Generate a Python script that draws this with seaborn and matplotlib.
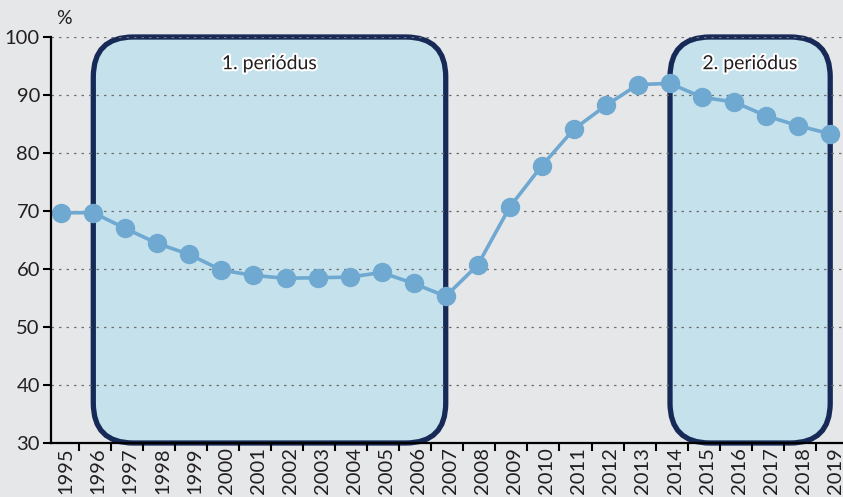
"""Line chart with two highlighted periods (rounded boxes)."""

import matplotlib

matplotlib.use("Agg")
import matplotlib.pyplot as plt
import matplotlib.patheffects as pe
import matplotlib.transforms as mtransforms
import numpy as np
import pandas as pd
import seaborn as sns
from matplotlib.patches import FancyBboxPatch

years = [str(y) for y in range(1995, 2020)]
values = [
    69.7, 69.7, 67.0, 64.4, 62.5, 59.8, 58.9, 58.4, 58.5, 58.6, 59.4, 57.5,
    55.3, 60.7, 70.7, 77.8, 84.1, 88.2, 91.8, 92.0, 89.6, 88.8, 86.4, 84.7,
    83.3,
]
periods = [("1. periódus", "1996", "2007"), ("2. periódus", "2014", "2019")]
y_ticks = [30, 40, 50, 60, 70, 80, 90, 100]

BG = "#e6e7e8"
LINE = "#6fa8d0"
BOX_FILL = "#c5e1ec"
BOX_EDGE = "#172a57"
TXT = "#231f20"

sns.set_style("white")
plt.rcParams["font.family"] = ["Lato", "DejaVu Sans"]

df = pd.DataFrame({"year": years, "value": values})

fig = plt.figure(figsize=(8.43, 4.97), dpi=100, facecolor=BG)
# axes runs a bit past the right edge, as in the original crop
ax_w = 801
ax = fig.add_axes([51 / 843, 1 - 443 / 497, ax_w / 843, (443 - 37) / 497])
ax.set_facecolor(BG)

sns.pointplot(
    data=df, x="year", y="value", color=LINE, markers="o",
    markersize=12, linewidth=2.6, ax=ax, zorder=3,
)

ax.set_xlim(-0.32, len(years) - 0.32)
ax.set_ylim(30, 100)

# rounded period boxes
xscale = ax_w / 25.0
yscale = 406 / 70.0
radius = 40 / xscale
for label, start, end in periods:
    x0 = years.index(start)
    x1 = years.index(end)
    box = FancyBboxPatch(
        (x0, 30), x1 - x0, 70,
        boxstyle=f"round,pad=0,rounding_size={radius}",
        mutation_aspect=xscale / yscale,
        facecolor=BOX_FILL, edgecolor=BOX_EDGE, linewidth=3.8,
        zorder=1, clip_on=False,
    )
    ax.add_patch(box)
    ax.text(
        (x0 + x1) / 2, 95.4, label, ha="center", va="center", fontsize=14,
        color=TXT, zorder=4,
        path_effects=[pe.withStroke(linewidth=3, foreground="white")],
    )

ax.set_axisbelow("line")
ax.yaxis.grid(True, linestyle=(0, (2, 4)), color="#707070", linewidth=0.9)
ax.xaxis.grid(False)

ax.set_yticks(y_ticks)
ax.tick_params(axis="y", direction="out", length=6, width=1.5,
               color="black", labelsize=14.5, left=True, pad=2)
ax.tick_params(axis="x", which="major", length=0, labelsize=14.5,
               labelrotation=90, pad=3)
ax.set_xticks(np.arange(0.55, len(years), 1), minor=True)
ax.tick_params(axis="x", which="minor", direction="out", length=6,
               width=1.5, color="black", bottom=True)
for t in ax.get_yticklabels() + ax.get_xticklabels():
    t.set_color(TXT)

# year labels sit slightly right of the points in the original
shift = mtransforms.ScaledTranslation(5 / 100, 0, fig.dpi_scale_trans)
for t in ax.get_xticklabels():
    t.set_transform(t.get_transform() + shift)

for s in ["top", "right"]:
    ax.spines[s].set_visible(False)
for s in ["left", "bottom"]:
    ax.spines[s].set_color("black")
    ax.spines[s].set_linewidth(1.6)
    ax.spines[s].set_zorder(5)

ax.set_xlabel("")
ax.set_ylabel("")
fig.text(64 / 843, 1 - 18 / 497, "%", ha="center", va="center",
         fontsize=14, color=TXT)

fig.savefig("out.png", dpi=100, facecolor=BG)
